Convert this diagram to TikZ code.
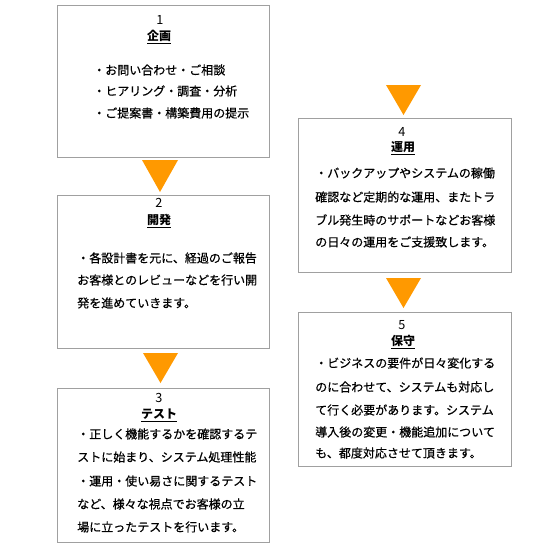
\documentclass[tikz,border=0pt]{standalone}
\usepackage{fontspec}
\setmainfont{Noto Sans CJK JP}
\newfontfamily\bodyfont{Noto Sans CJK JP}[RawFeature={embolden=0.5}]
\definecolor{boxgray}{HTML}{A0A0A0}
\definecolor{arrowor}{HTML}{FF9900}
\begin{document}
\begin{tikzpicture}[x=0.75pt,y=-0.75pt,
  box/.style={draw=boxgray, line width=0.75pt, fill=white, inner sep=0pt, minimum width=159pt},
  tri/.style={fill=arrowor, draw=none},
  num/.style={font=\fontsize{9.5}{11}\selectfont, inner sep=0pt, anchor=center},
  ttl/.style={font=\fontsize{9}{11}\selectfont\bfseries, inner sep=0pt, anchor=center},
  txt/.style={font=\fontsize{9}{11}\selectfont\bodyfont, inner sep=0pt, anchor=west}]
\useasboundingbox (0,0) rectangle (550,550);
% boxes
\node[box, minimum height=114pt] (b1) at (163,81) {};
\node[box, minimum height=114.75pt] (b2) at (163,271.5) {};
\node[box, minimum height=115.5pt] (b3) at (163,465) {};
\node[box, minimum height=115.5pt, minimum width=159.75pt] (b4) at (404.5,195) {};
\node[box, minimum height=115.5pt, minimum width=159.75pt] (b5) at (404.5,389) {};
% arrows (triangles)
\fill[tri] (142,160) -- (178,160) -- (160,192) -- cycle;
\fill[tri] (143,353) -- (178,353) -- (160.5,383) -- cycle;
\fill[tri] (386,85) -- (421,85) -- (403.5,115) -- cycle;
\fill[tri] (386,278) -- (421,278) -- (403.5,308) -- cycle;
% box 1
\node[num] (n1) at (160,20) {1};
\node[ttl] (t1) at (159,37) {\underline{企画}};
\node[txt] (l11) at (93,70) {・お問い合わせ・ご相談};
\node[txt] (l12) at (93,91) {・ヒアリング・調査・分析};
\node[txt] (l13) at (93,113) {・ご提案書・構築費用の提示};
% box 2
\node[num] (n2) at (159,203) {2};
\node[ttl] (t2) at (159,221) {\underline{開発}};
\node[txt] (l21) at (77,258) {・各設計書を元に、経過のご報告};
\node[txt] (l22) at (77,280) {お客様とのレビューなどを行い開};
\node[txt] (l23) at (77,303) {発を進めていきます。};
% box 3
\node[num] (n3) at (159,398) {3};
\node[ttl] (t3) at (159,415) {\underline{テスト}};
\node[txt] (l31) at (77,434) {・正しく機能するかを確認するテ};
\node[txt] (l32) at (77,457) {ストに始まり、システム処理性能};
\node[txt] (l33) at (77,481) {・運用・使い易さに関するテスト};
\node[txt] (l34) at (77,504) {など、様々な視点でお客様の立};
\node[txt] (l35) at (77,527) {場に立ったテストを行います。};
% box 4
\node[num] (n4) at (402,132) {4};
\node[ttl] (t4) at (403,148) {\underline{運用}};
\node[txt] (l41) at (315,173) {・バックアップやシステムの稼働};
\node[txt] (l42) at (315,197) {確認など定期的な運用、またトラ};
\node[txt] (l43) at (315,220) {ブル発生時のサポートなどお客様};
\node[txt] (l44) at (315,242) {の日々の運用をご支援致します。};
% box 5
\node[num] (n5) at (402,325) {5};
\node[ttl] (t5) at (403,342) {\underline{保守}};
\node[txt] (l51) at (315,363) {・ビジネスの要件が日々変化する};
\node[txt] (l52) at (315,387) {のに合わせて、システムも対応し};
\node[txt] (l53) at (315,410) {て行く必要があります。システム};
\node[txt] (l54) at (315,432) {導入後の変更・機能追加について};
\node[txt] (l55) at (315,453) {も、都度対応させて頂きます。};
\end{tikzpicture}
\end{document}
